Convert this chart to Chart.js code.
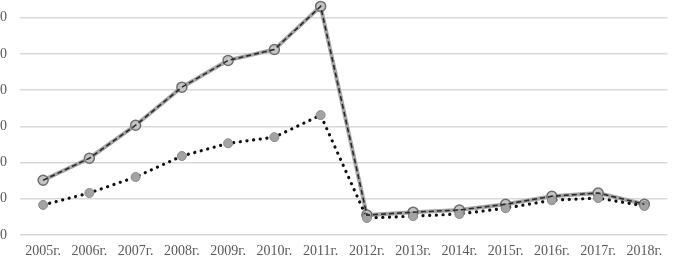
<!DOCTYPE html>
<html>
<head>
<meta charset="utf-8">
<script src="https://cdn.jsdelivr.net/npm/chart.js@4.4.1/dist/chart.umd.min.js"></script>
<style>
  html,body{margin:0;padding:0;background:#fff;overflow:hidden;width:674px;height:262px;}
  #wrap{position:absolute;left:-40px;top:-40px;width:714px;height:302px;}
</style>
</head>
<body>
<div id="wrap"><canvas id="chart" width="714" height="302"></canvas></div>
<script>
const years=['2005г.','2006г.','2007г.','2008г.','2009г.','2010г.','2011г.','2012г.','2013г.','2014г.','2015г.','2016г.','2017г.','2018г.']
const seriesA=[15.1,21.2,30.3,40.8,48.2,51.2,63.1,5.5,6.3,6.9,8.5,10.7,11.6,8.5]
const seriesB=[8.3,11.6,16.0,21.8,25.3,27.0,33.1,4.7,5.2,5.8,7.4,9.6,10.2,8.0]
const yTicks=[0,10,20,30,40,50,60,70]

const ctx=document.querySelector('#chart').getContext('2d')

new Chart(ctx,{
    type:'line',
    data:{
        labels:years,
        datasets:[
            // gray under-line for series A
            {
                data:seriesA,
                order:3,
                borderColor:'#a6a6a6',
                borderWidth:4,
                pointRadius:5,
                pointBackgroundColor:'#c4c4c4',
                pointBorderColor:'#6e6e6e',
                pointBorderWidth:1.5,
                tension:0
            },
            // dark dashes on top
            {
                data:seriesA,
                order:1,
                borderColor:'#2a2a2a',
                borderWidth:1.6,
                borderDash:[5,3],
                pointRadius:0,
                tension:0
            },
            {
                data:seriesB,
                order:2,
                borderColor:'#111',
                borderWidth:3.2,
                borderDash:[0.1,6.6],
                borderCapStyle:'round',
                pointRadius:4.5,
                pointBackgroundColor:'#a3a3a3',
                pointBorderColor:'#8a8a8a',
                pointBorderWidth:1,
                tension:0
            }
        ]
    },
    options:{
        responsive:false,
        animation:false,
        layout:{padding:{top:0,right:0,bottom:0,left:0}},
        plugins:{legend:{display:false},tooltip:{enabled:false}},
        scales:{
            x:{
                offset:true,
                grid:{display:false,drawTicks:false},
                border:{display:false},
                ticks:{color:'#595959',padding:8,maxRotation:0,autoSkip:false,
                    font:{family:'"Liberation Serif", serif',size:14}},
                afterFit:(s)=>{s.height=27}
            },
            y:{
                min:0,max:70,
                afterBuildTicks:(s)=>{s.ticks=yTicks.map(v=>({value:v}))},
                grid:{color:'#d9d9d9',lineWidth:1.5,drawTicks:false},
                border:{display:false},
                ticks:{color:'#595959',padding:13,
                    font:{family:'"Liberation Serif", serif',size:14}},
                afterFit:(s)=>{s.width=60}
            }
        }
    }
})
</script>
</body>
</html>
